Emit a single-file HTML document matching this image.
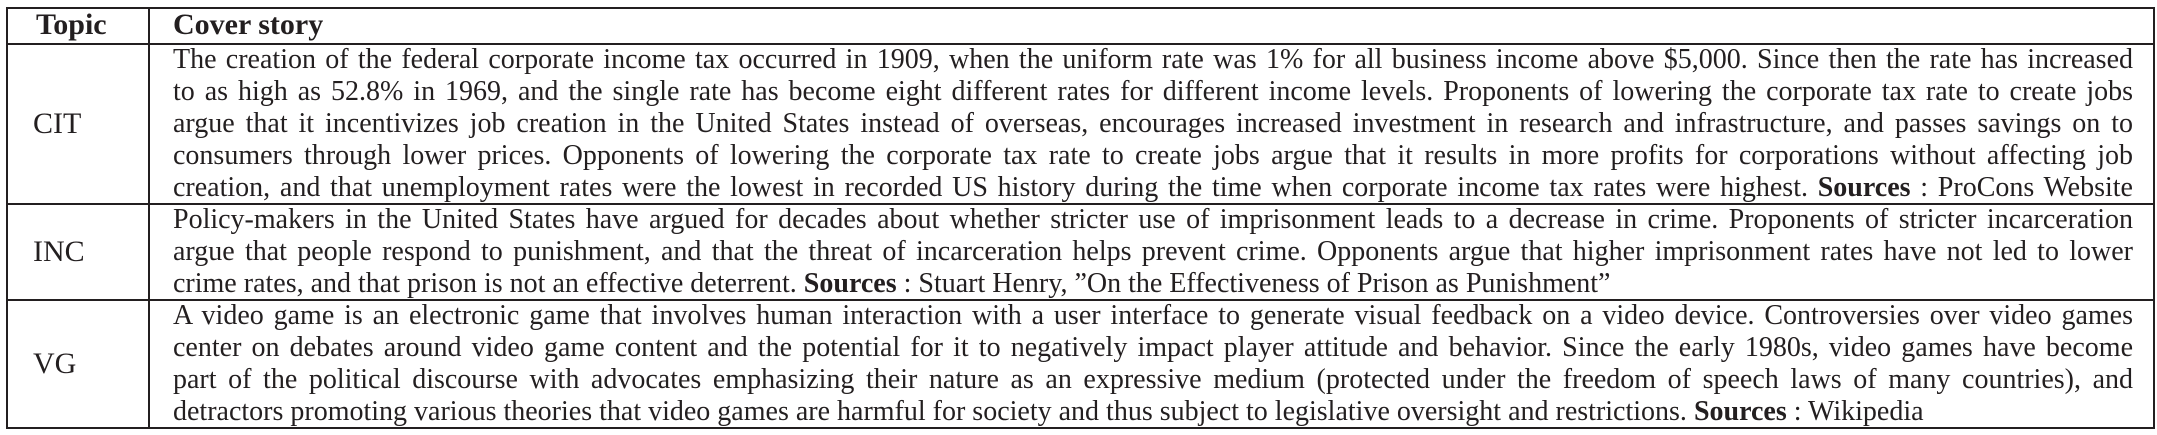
<!DOCTYPE html>
<html><head><meta charset="utf-8">
<style>
html,body{margin:0;padding:0;background:#fff;}
body{width:2157px;height:435px;position:relative;overflow:hidden;font-family:"Liberation Serif","Times New Roman",serif;color:#231f20;}
.h{position:absolute;background:#231f20;}
.ln{position:absolute;left:173px;width:1960px;height:32px;line-height:32px;font-size:28px;white-space:normal;overflow:hidden;text-align:justify;text-align-last:justify;}
.ln.last{text-align-last:left;}
.lab{position:absolute;left:33px;font-size:30px;}
.hd{position:absolute;top:8px;height:36px;line-height:34px;font-size:30px;font-weight:bold;}
</style></head><body>
<div>
<div class="h" style="left:6px;top:7px;width:2149px;height:2px"></div>
<div class="h" style="left:6px;top:43px;width:2149px;height:1.5px"></div>
<div class="h" style="left:6px;top:203px;width:2149px;height:2px"></div>
<div class="h" style="left:6px;top:299px;width:2149px;height:2px"></div>
<div class="h" style="left:6px;top:427px;width:2149px;height:2px"></div>
<div class="h" style="left:6px;top:7px;width:2px;height:422px"></div>
<div class="h" style="left:148px;top:7px;width:2px;height:422px"></div>
<div class="h" style="left:2153px;top:7px;width:2px;height:422px"></div>

<div class="hd" style="left:36px">Topic</div>
<div class="hd" style="left:173px">Cover story</div>

<div class="lab" style="top:108px;line-height:32px">CIT</div>
<div class="ln" style="top:44px">The creation of the federal corporate income tax occurred in 1909, when the uniform rate was 1% for all business income above $5,000. Since then the rate has increased</div>
<div class="ln" style="top:76px">to as high as 52.8% in 1969, and the single rate has become eight different rates for different income levels. Proponents of lowering the corporate tax rate to create jobs</div>
<div class="ln" style="top:108px">argue that it incentivizes job creation in the United States instead of overseas, encourages increased investment in research and infrastructure, and passes savings on to</div>
<div class="ln" style="top:140px">consumers through lower prices. Opponents of lowering the corporate tax rate to create jobs argue that it results in more profits for corporations without affecting job</div>
<div class="ln" style="top:172px">creation, and that unemployment rates were the lowest in recorded US history during the time when corporate income tax rates were highest. <b>Sources</b> : ProCons Website</div>

<div class="lab" style="top:236px;line-height:32px">INC</div>
<div class="ln" style="top:204px">Policy-makers in the United States have argued for decades about whether stricter use of imprisonment leads to a decrease in crime. Proponents of stricter incarceration</div>
<div class="ln" style="top:236px">argue that people respond to punishment, and that the threat of incarceration helps prevent crime. Opponents argue that higher imprisonment rates have not led to lower</div>
<div class="ln last" style="top:268px">crime rates, and that prison is not an effective deterrent. <b>Sources</b> : Stuart Henry, ”On the Effectiveness of Prison as Punishment”</div>

<div class="lab" style="top:348px;line-height:32px">VG</div>
<div class="ln" style="top:300px">A video game is an electronic game that involves human interaction with a user interface to generate visual feedback on a video device. Controversies over video games</div>
<div class="ln" style="top:332px">center on debates around video game content and the potential for it to negatively impact player attitude and behavior. Since the early 1980s, video games have become</div>
<div class="ln" style="top:364px">part of the political discourse with advocates emphasizing their nature as an expressive medium (protected under the freedom of speech laws of many countries), and</div>
<div class="ln last" style="top:396px">detractors promoting various theories that video games are harmful for society and thus subject to legislative oversight and restrictions. <b>Sources</b> : Wikipedia</div>
</div>
</body></html>
